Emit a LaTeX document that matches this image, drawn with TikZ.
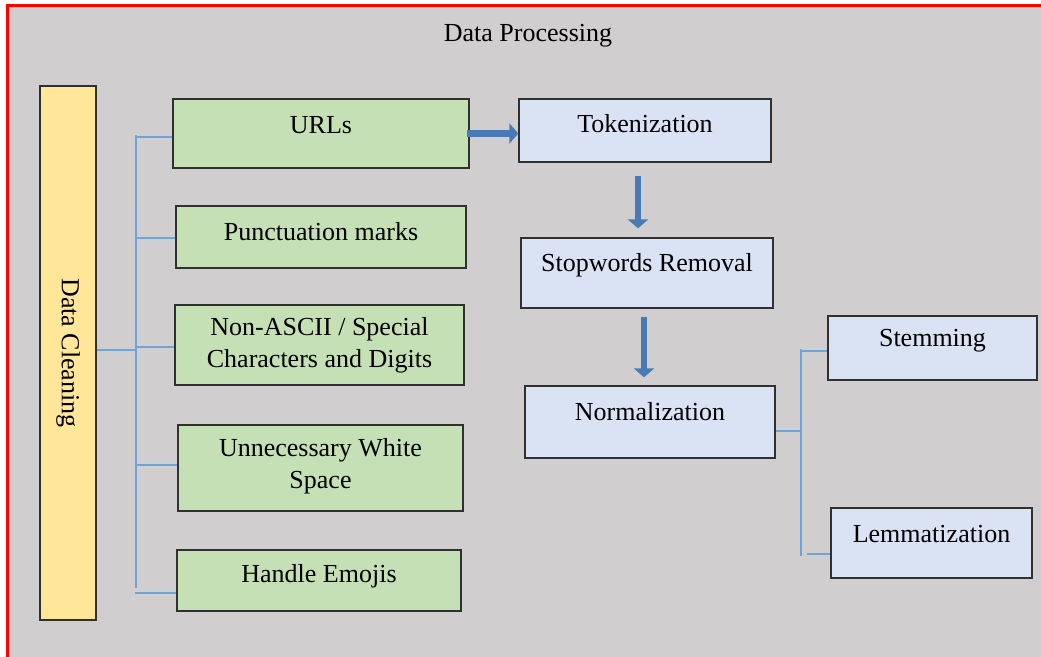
\documentclass[tikz,border=0pt]{standalone}
\usepackage{fontspec}
\setmainfont{Liberation Serif}
\usetikzlibrary{arrows.meta,calc}
\definecolor{bgray}{HTML}{D0CECE}
\definecolor{dcfill}{HTML}{FFE699}
\definecolor{gfill}{HTML}{C5E0B4}
\definecolor{bfill}{HTML}{DAE3F3}
\definecolor{edge}{HTML}{303030}
\definecolor{brcol}{HTML}{70A3DB}
\definecolor{arcol}{HTML}{4A7AB5}
\newcommand\rz[2]{\raisebox{#1}[\height][\depth]{#2}}
\begin{document}
\begin{tikzpicture}[x=1pt,y=-1pt,
  txt/.style={font=\fontsize{26}{31}\selectfont},
  box/.style={txt,draw=edge,line width=1.3pt,inner sep=0pt,align=center},
  gbox/.style={box,fill=gfill},
  bbox/.style={box,fill=bfill},
  br/.style={draw=brcol,line width=1.5pt},
  bigarrow/.style={draw=arcol,line width=6.5pt,-{Triangle[length=9pt,width=20pt]}}]
\useasboundingbox (0,0) rectangle (1041,656);
\fill[white] (0,0) rectangle (1041,656);
\draw[red,line width=2.5pt,fill=bgray] (7.5,5.5) rectangle (1060,670);
\node[txt] (title) at (528,33) {\rz{-3pt}{Data Processing}};
% data cleaning
\node[box,fill=dcfill,minimum width=56pt,minimum height=534pt] (dc) at (68,353) {\rotatebox{-90}{Data Cleaning}};
% green boxes
\node[gbox,minimum width=296pt,minimum height=69pt] (urls) at (321,133.5) {\rz{8.5pt}{URLs}};
\node[gbox,minimum width=290pt,minimum height=62pt] (punct) at (321,237) {\rz{5pt}{Punctuation marks}};
\node[gbox,minimum width=289pt,minimum height=80pt] (nonascii) at (319.5,345) {Non-ASCII / Special\\[1pt]Characters and Digits};
\node[gbox,minimum width=285pt,minimum height=86pt] (white) at (320.5,468) {\rz{2pt}{\shortstack{Unnecessary White\\[6pt]Space}}};
\node[gbox,minimum width=284pt,minimum height=61pt] (emoji) at (319,580.5) {\rz{4.5pt}{Handle Emojis}};
% blue boxes
\node[bbox,minimum width=252pt,minimum height=63pt] (tok) at (645,130.5) {\rz{6.5pt}{Tokenization}};
\node[bbox,minimum width=252pt,minimum height=70pt] (stop) at (647,273) {\rz{8pt}{Stopwords Removal}};
\node[bbox,minimum width=250pt,minimum height=72pt] (norm) at (650,422) {\rz{10pt}{Normalization}};
\node[bbox,minimum width=209pt,minimum height=64pt] (stem) at (932.5,348) {\rz{7pt}{Stemming}};
\node[bbox,minimum width=201pt,minimum height=70pt] (lemma) at (931.5,543) {\rz{9pt}{Lemmatization}};
% left bracket
\coordinate (sT) at (136,135);
\coordinate (sB) at (136,588);
\draw[br] (sT) -- (sB);
\draw[br] ([yshift=3pt]dc.east) -- ([yshift=3pt]dc.east -| sT);
\draw[br] ([yshift=-3.5pt]urls.west) -- ([yshift=-3.5pt]urls.west -| sT);
\draw[br] ([yshift=-1pt]punct.west) -- ([yshift=-1pt]punct.west -| sT);
\draw[br] ([yshift=-2pt]nonascii.west) -- ([yshift=-2pt]nonascii.west -| sT);
\draw[br] ([yshift=3pt]white.west) -- ([yshift=3pt]white.west -| sT);
\draw[br] ([yshift=-12.5pt]emoji.west) -- ([yshift=-12.5pt,xshift=-1pt]emoji.west -| sT);
% right bracket
\coordinate (rT) at (801,349);
\coordinate (rB) at (801,556);
\draw[br] (rT) -- (rB);
\draw[br] ([yshift=-9pt]norm.east) -- ([yshift=-9pt]norm.east -| rT);
\draw[br] ([yshift=-3pt]stem.west) -- ([yshift=-3pt]stem.west -| rT);
\draw[br] ([yshift=-11pt]lemma.west) -- ([yshift=-11pt,xshift=6pt]lemma.west -| rT);
% arrows
\draw[bigarrow] ([xshift=-3pt]urls.east) -- (tok.west |- urls.east);
\draw[bigarrow] ($(tok.south)+(-7,13)$) -- ($(tok.south |- stop.north)+(-7,-9)$);
\draw[bigarrow] ($(stop.south)+(-3,8)$) -- ($(stop.south |- norm.north)+(-3,-8)$);
\end{tikzpicture}
\end{document}
